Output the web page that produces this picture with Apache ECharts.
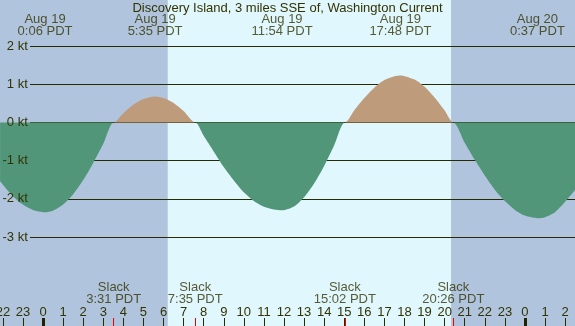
<!DOCTYPE html>
<html>
<head>
<meta charset="utf-8">
<script src="https://cdn.jsdelivr.net/npm/echarts@6/dist/echarts.min.js"></script>
<style>
html, body { margin: 0; padding: 0; }
#chart { width: 575px; height: 326px; }
</style>
</head>
<body>
<div id="chart"></div>
<script>
// hours since Aug 19 0:00 PDT, current speed in knots
const hours = [-2.14, -1.5, -1, -0.5, 0.10, 0.5, 1, 1.5, 2, 2.5, 3, 3.52, 4, 4.5, 5, 5.58, 6, 6.5, 7, 7.58,
  8, 8.5, 9, 9.5, 10, 10.5, 11, 11.5, 11.90, 12.5, 13, 13.5, 14, 14.5, 15.03, 15.5, 16, 16.5, 17, 17.5,
  17.80, 18.5, 19, 19.5, 20, 20.43, 21, 21.5, 22, 22.5, 23, 23.5, 24, 24.62, 25, 25.5, 26, 26.6]
const currents = [-1.54, -1.93, -2.15, -2.29, -2.35, -2.31, -2.15, -1.88, -1.51, -1.06, -0.56, 0, 0.24, 0.46, 0.61, 0.68, 0.64, 0.51, 0.30, 0,
  -0.35, -0.76, -1.17, -1.52, -1.83, -2.06, -2.21, -2.28, -2.30, -2.20, -1.96, -1.60, -1.14, -0.60, 0, 0.32, 0.64, 0.91, 1.11, 1.21,
  1.23, 1.12, 0.93, 0.65, 0.31, 0, -0.53, -0.98, -1.39, -1.76, -2.06, -2.29, -2.44, -2.51, -2.48, -2.35, -2.08, -1.70]

const extremeTimes = [0.10, 5.58, 11.90, 17.80, 24.62]
const extremeLabels = ['Aug 19\n0:06 PDT', 'Aug 19\n5:35 PDT', 'Aug 19\n11:54 PDT', 'Aug 19\n17:48 PDT', 'Aug 20\n0:37 PDT']
const slackTimes = [3.52, 7.58, 15.03, 20.43]
const slackLabels = ['Slack\n3:31 PDT', 'Slack\n7:35 PDT', 'Slack\n15:02 PDT', 'Slack\n20:26 PDT']
const hourTicks = [-2, -1, 1, 2, 3, 4, 5, 6, 7, 8, 9, 10, 11, 12, 13, 14, 15, 16, 17, 18, 19, 20, 21, 22, 23, 25, 26]
const midnights = [0, 24]
const sunrise = 6.21
const sunset = 20.32

// x axis runs -3..27 h, the grid pokes out of the canvas on both sides
const X_MIN = -3
const X_MAX = 27
const GRID_LEFT = -17.2
const GRID_RIGHT = -10.2
const FONT = 'Liberation Sans'
const TEXT = '#333300'
const LINE = '#2a2a00'
const NIGHT = '#b0c4de'
const DAY = '#e0f7fe'
const FLOOD = '#bd9b7b'
const EBB = '#52967a'

const textStyle = { color: TEXT, fontFamily: FONT, fontSize: 13 }

// slack times are data points, so splitting at zero is exact
const ebbData = hours.map((h, i) => [h, Math.min(currents[i], 0)])
const floodData = hours.map((h, i) => [h, Math.max(currents[i], 0)])

function tick(t, color, width) {
  return [{ coord: [t, 318], lineStyle: { color: color, width: width } }, { coord: [t, 326] }]
}

function areaSeries(data, color) {
  return {
    type: 'line', xAxisIndex: 1, yAxisIndex: 1, z: 3, silent: true,
    data: data,
    smooth: 0.25,
    symbol: 'none',
    lineStyle: { width: 0 },
    itemStyle: { color: color },
    areaStyle: { color: color, opacity: 1, origin: 0 }
  }
}

const myChart = echarts.init(document.getElementById('chart'))
const option = {
  backgroundColor: DAY,
  animation: false,
  title: {
    text: 'Discovery Island, 3 miles SSE of, Washington Current',
    left: 'center',
    top: 2,
    padding: 0,
    textStyle: Object.assign({ fontWeight: 'normal' }, textStyle)
  },
  grid: [
    { left: GRID_LEFT, right: GRID_RIGHT, top: 0, bottom: 0, outerBoundsMode: 'none', containLabel: false },
    { left: GRID_LEFT, right: GRID_RIGHT, top: 46, bottom: 89, outerBoundsMode: 'none', containLabel: false },
    // only for the kt lines, which start right of the labels
    { left: 30, right: GRID_RIGHT, top: 46, bottom: 89, outerBoundsMode: 'none', containLabel: false }
  ],
  xAxis: [
    {
      gridIndex: 0, type: 'value', min: X_MIN, max: X_MAX, interval: 1, position: 'bottom', z: 5,
      axisLine: { show: false },
      splitLine: { show: false },
      axisTick: { show: false },
      axisLabel: Object.assign({
        inside: true, margin: 7, hideOverlap: false,
        formatter: v => String(((v % 24) + 24) % 24)
      }, textStyle)
    },
    { gridIndex: 1, type: 'value', min: X_MIN, max: X_MAX, show: false },
    { gridIndex: 2, type: 'value', min: 0, max: 1, show: false }
  ],
  yAxis: [
    { gridIndex: 0, type: 'value', min: 0, max: 326, inverse: true, show: false },
    {
      gridIndex: 1, type: 'value', min: -3, max: 2, interval: 1, z: 5,
      axisLine: { show: false },
      axisTick: { show: false },
      splitLine: { show: false },
      axisLabel: Object.assign({ inside: true, margin: 45, align: 'right', formatter: '{value} kt' }, textStyle)
    },
    {
      gridIndex: 2, type: 'value', min: -3, max: 2, interval: 1, z: 2,
      axisLine: { show: false },
      axisTick: { show: false },
      axisLabel: { show: false },
      splitLine: { show: true, lineStyle: { color: LINE, width: 1 } }
    }
  ],
  series: [
    {
      // night shading
      type: 'line', xAxisIndex: 0, yAxisIndex: 0, data: [], z: 0, silent: true,
      markArea: {
        silent: true,
        z: 0,
        itemStyle: { color: NIGHT },
        data: [
          [{ coord: [X_MIN, 0] }, { coord: [sunrise, 326] }],
          [{ coord: [sunset, 0] }, { coord: [X_MAX, 326] }]
        ]
      }
    },
    areaSeries(ebbData, EBB),
    areaSeries(floodData, FLOOD),
    {
      type: 'scatter', xAxisIndex: 0, yAxisIndex: 0, z: 6, silent: true,
      symbolSize: 1,
      itemStyle: { color: 'rgba(0,0,0,0)' },
      label: Object.assign({ show: true, position: 'inside', formatter: '{b}', lineHeight: 12 }, textStyle),
      data: extremeTimes.map((t, i) => ({ name: extremeLabels[i], value: [t, 25] }))
        .concat(slackTimes.map((t, i) => ({ name: slackLabels[i], value: [t, 293] })))
    },
    {
      // hour, midnight and slack ticks
      type: 'line', xAxisIndex: 0, yAxisIndex: 0, data: [], z: 6, silent: true,
      markLine: {
        silent: true,
        z: 6,
        symbol: ['none', 'none'],
        label: { show: false },
        lineStyle: { type: 'solid' },
        data: hourTicks.map(t => tick(t, LINE, 1))
          .concat(midnights.map(t => tick(t, '#222200', 3)))
          .concat(slackTimes.map(t => tick(t, '#ee0000', 1)))
      }
    }
  ]
}
myChart.setOption(option)
</script>
</body>
</html>
